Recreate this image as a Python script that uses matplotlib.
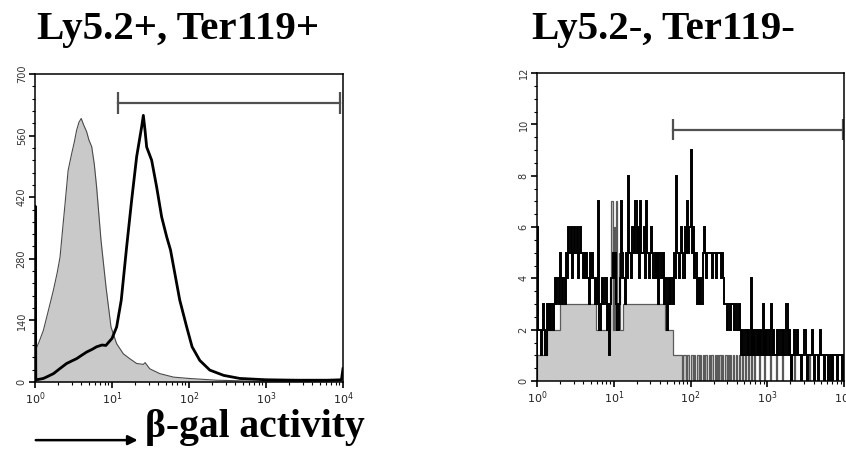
import numpy as np
import matplotlib.pyplot as plt
from matplotlib.patches import FancyArrowPatch
from matplotlib.ticker import LogLocator, NullFormatter, MultipleLocator

# ---- left panel (Ly5.2+, Ter119+): log10 intensity positions and counts ----
left_gray_log = [0.0, 0.005, 0.05, 0.108, 0.17, 0.238, 0.29, 0.325, 0.36, 0.39,
                 0.43, 0.476, 0.51, 0.54, 0.57, 0.6, 0.63, 0.67, 0.70, 0.736,
                 0.77, 0.8, 0.857, 0.922, 0.987, 1.06, 1.147, 1.23, 1.32, 1.407,
                 1.43, 1.49, 1.62, 1.8, 2.0, 2.36, 2.8, 3.2, 3.6, 4.0]
left_gray_cnt = [0, 72, 90, 117, 160, 208, 250, 284, 350, 405,
                 481, 519, 545, 572, 590, 599, 585, 569, 550, 535,
                 495, 443, 322, 216, 125, 87, 64, 53, 42, 40,
                 44, 30, 19, 11, 8, 4, 2, 1, 1, 0]

left_black_log = [0.0, 0.002, 0.01, 0.05, 0.108, 0.17, 0.24, 0.32, 0.41, 0.48,
                  0.54, 0.6, 0.67, 0.74, 0.8, 0.87, 0.92, 1.0, 1.06, 1.12,
                  1.19, 1.255, 1.32, 1.385, 1.407, 1.43, 1.45, 1.515, 1.58, 1.645,
                  1.71, 1.76, 1.8, 1.88, 1.97, 2.04, 2.14, 2.27, 2.45, 2.66,
                  3.0, 3.4, 3.8, 3.98, 4.0]
left_black_cnt = [0, 400, 5, 6, 8, 13, 19, 30, 42, 48,
                  53, 60, 68, 74, 80, 84, 83, 99, 125, 186,
                  307, 413, 512, 580, 606, 570, 534, 504, 443, 375,
                  330, 300, 262, 186, 125, 80, 49, 27, 15, 8,
                  5, 4, 4, 5, 30]

# ---- right panel (Ly5.2-, Ter119-): 256 channels over 4 decades ----
right_black_cnt = [
    6, 2, 2, 1, 2, 3, 2, 1,  3, 2, 3, 2, 3, 2, 3, 4,
    3, 4, 3, 5, 4, 3, 4, 3,  5, 4, 6, 5, 6, 4, 5, 6,
    5, 6, 4, 5, 6, 5, 4, 5,  4, 5, 4, 3, 5, 4, 5, 4,
    3, 4, 3, 7, 2, 3, 4, 3,  3, 4, 2, 3, 1, 3, 4, 5,
    4, 5, 3, 2, 3, 4, 7, 5,  4, 3, 5, 4, 8, 5, 4, 6,
    6, 5, 7, 5, 6, 4, 7, 5,  5, 6, 4, 7, 5, 4, 5, 6,
    5, 4, 5, 4, 5, 3, 5, 4,  4, 5, 3, 4, 2, 3, 4, 3,
    4, 3, 5, 4, 8, 5, 4, 5,  6, 5, 4, 6, 5, 7, 5, 6,
    9, 5, 6, 4, 5, 3, 4, 3,  4, 3, 5, 6, 5, 4, 5, 5,
    5, 5, 4, 5, 5, 4, 5, 5,  5, 4, 5, 4, 3, 3, 2, 3,
    3, 2, 3, 3, 2, 3, 3, 2,  3, 2, 1, 2, 1, 2, 2, 1,
    2, 1, 4, 1, 2, 1, 2, 1,  2, 1, 2, 1, 3, 1, 2, 1,
    2, 1, 2, 3, 1, 2, 1, 1,  2, 1, 1, 2, 1, 2, 1, 1,
    3, 1, 2, 1, 0, 1, 2, 1,  1, 2, 1, 1, 0, 1, 1, 2,
    1, 0, 1, 1, 1, 2, 1, 0,  1, 1, 0, 1, 2, 1, 1, 0,
    1, 1, 1, 0, 1, 1, 0, 1,  1, 1, 0, 1, 1, 1, 0, 1]
right_gray_cnt = [
    1, 1, 1, 1, 1, 1, 2, 1,  2, 2, 2, 2, 2, 2, 2, 2,
    2, 2, 2, 3, 3, 3, 3, 3,  3, 3, 3, 3, 3, 3, 3, 3,
    3, 3, 3, 3, 3, 3, 3, 3,  3, 3, 3, 3, 3, 3, 3, 3,
    3, 2, 2, 2, 2, 2, 2, 2,  2, 2, 2, 2, 2, 4, 7, 2,
    6, 2, 7, 3, 5, 2, 2, 2,  3, 3, 3, 3, 3, 3, 3, 3,
    3, 3, 3, 3, 3, 3, 3, 3,  3, 3, 3, 3, 3, 3, 3, 3,
    3, 3, 3, 3, 3, 3, 3, 3,  3, 3, 3, 2, 2, 2, 2, 2,
    2, 1, 1, 1, 1, 1, 1, 1,  1, 0, 1, 1, 0, 1, 1, 0,
    1, 1, 0, 1, 0, 1, 1, 0,  1, 0, 1, 0, 1, 1, 0, 1,
    0, 1, 1, 0, 1, 0, 1, 0,  1, 0, 1, 0, 0, 1, 0, 1,
    0, 1, 0, 1, 0, 0, 1, 0,  1, 0, 0, 1, 0, 1, 0, 0,
    1, 0, 1, 0, 0, 1, 0, 0,  0, 1, 0, 0, 0, 1, 0, 0,
    0, 0, 1, 0, 0, 0, 0, 1,  0, 0, 0, 0, 1, 0, 0, 0,
    0, 0, 0, 0, 0, 0, 1, 0,  0, 0, 0, 0, 0, 0, 0, 0,
    0, 0, 0, 1, 0, 0, 0, 0,  0, 0, 0, 0, 0, 0, 0, 0,
    0, 0, 0, 0, 0, 1, 0, 0,  0, 0, 0, 0, 0, 0, 0, 0]

# gates: (start, end, height)
left_gate = (12.0, 9200.0, 635)
right_gate = (59.0, 9600.0, 9.8)

left_yticks = [0, 140, 280, 420, 560, 700]
right_yticks = [0, 2, 4, 6, 8, 10, 12]
xticks = [1, 10, 100, 1000, 10000]
xticklabels = ['$10^0$', '$10^1$', '$10^2$', '$10^3$', '$10^4$']

GRAY_FILL = '#c9c9c9'
GRAY_LINE = '#4a4a4a'
GATE = '#505050'


def style_axis(ax, yticks, ymax, yminor):
    ax.set_xscale('log')
    ax.set_xlim(1, 10000)
    ax.set_ylim(0, ymax)
    ax.set_xticks(xticks)
    ax.set_xticklabels(xticklabels, fontsize=8, color='#222222')
    ax.xaxis.set_minor_locator(LogLocator(base=10, subs=np.arange(2, 10)))
    ax.xaxis.set_minor_formatter(NullFormatter())
    ax.set_yticks(yticks)
    ax.set_yticklabels([str(t) for t in yticks], rotation=90, va='center',
                       fontsize=7, color='#333333')
    ax.yaxis.set_minor_locator(MultipleLocator(yminor))
    ax.tick_params(which='major', direction='out', length=4, width=1.2, pad=2)
    ax.tick_params(which='minor', direction='out', length=2.2, width=0.8)
    for s in ax.spines.values():
        s.set_linewidth(1.1)


def draw_gate(ax, gate, cap):
    x0, x1, h = gate
    ax.plot([x0, x1], [h, h], color=GATE, lw=1.6)
    ax.vlines([x0, x1], h - cap, h + cap, color=GATE, lw=1.6)


fig = plt.figure(figsize=(8.46, 4.58), dpi=100)

# left panel
axl = fig.add_axes([0.0414, 0.166, 0.364, 0.6724])
gx = 10 ** np.array(left_gray_log)
bx = 10 ** np.array(left_black_log)
axl.fill_between(gx, left_gray_cnt, color=GRAY_FILL, lw=0)
axl.plot(gx, left_gray_cnt, color=GRAY_LINE, lw=0.8)
axl.plot(bx, left_black_cnt, color='black', lw=2.0)
draw_gate(axl, left_gate, 25)
style_axis(axl, left_yticks, 700, 28)

# right panel
axr = fig.add_axes([0.6348, 0.168, 0.3629, 0.6724])
edges = np.logspace(0, 4, len(right_black_cnt) + 1)
axr.stairs(right_gray_cnt, edges, fill=True, color=GRAY_FILL, lw=0)
axr.stairs(right_gray_cnt, edges, color='#5a5a5a', lw=0.9)
axr.stairs(right_black_cnt, edges, color='black', lw=1.4)
draw_gate(axr, right_gate, 0.4)
style_axis(axr, right_yticks, 12, 0.5)

# titles and axis annotation
title_font = dict(family='Liberation Serif', weight='bold', fontsize=29.5)
fig.text(0.2104, 0.915, 'Ly5.2+, Ter119+', ha='center', va='baseline', **title_font)
fig.text(0.7837, 0.915, 'Ly5.2-, Ter119-', ha='center', va='baseline', **title_font)

fig.add_artist(FancyArrowPatch(
    (0.039, 0.039), (0.166, 0.039), transform=fig.transFigure,
    arrowstyle='-|>', mutation_scale=14, lw=1.8, color='black'))
fig.text(0.171, 0.045, '\u03b2-gal activity', ha='left', va='baseline',
         family='Liberation Serif', weight='bold', fontsize=28.5)

fig.savefig('out.png', dpi=100)
